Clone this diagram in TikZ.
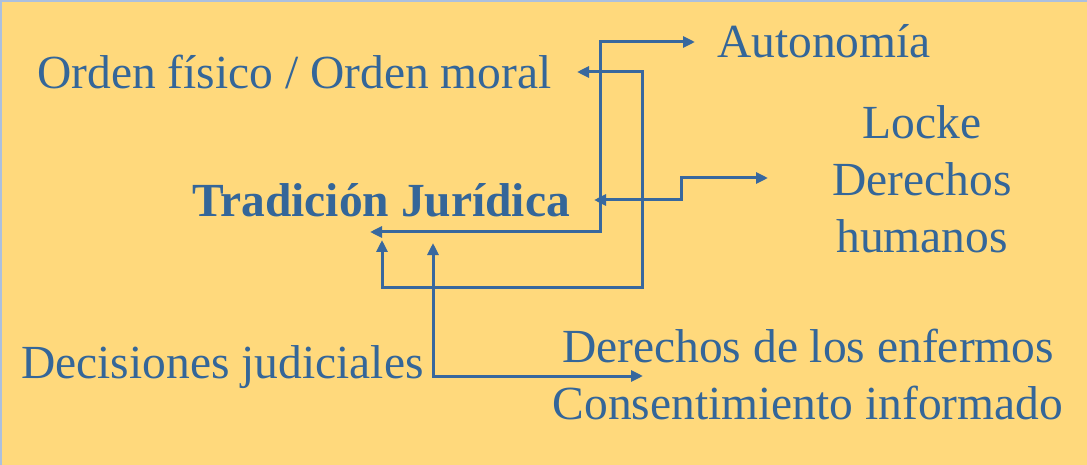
\documentclass[tikz,border=0pt]{standalone}
\usepackage{fontspec}
\setmainfont{Liberation Serif}
\usetikzlibrary{arrows.meta}
\definecolor{bgyellow}{RGB}{255,217,124}
\definecolor{txtblue}{RGB}{52,102,153}
\definecolor{lineblue}{RGB}{56,104,158}
\definecolor{edgeblue}{RGB}{172,192,222}
\tikzset{
  lbl/.style={text=txtblue, inner sep=0pt, font=\fontsize{47.5}{57}\selectfont},
  link/.style={draw=lineblue, line width=3pt, {Triangle[length=12pt,width=11pt]}-{Triangle[length=12pt,width=11pt]}}
}
\begin{document}
\begin{tikzpicture}[x=1pt,y=-1pt]
\useasboundingbox (0,0) rectangle (1087,465);
\fill[edgeblue] (0,0) rectangle (1087,465);
\fill[bgyellow] (1.5,2.5) rectangle (1087,465);

\node[lbl, anchor=base west] (orden) at (37,89) {Orden físico / Orden moral};
\node[lbl, anchor=base west] (auto) at (717,58) {Autonomía};
\node[lbl, anchor=base west, font=\fontsize{47.5}{57}\selectfont\bfseries] (trad) at (192,217) {Tradición Jurídica};
\node[lbl, anchor=base, align=center] (locke) at (922,252) {Locke\\Derechos\\humanos};
\node[lbl, anchor=base west] (deci) at (21,378) {Decisiones judiciales};
\node[lbl, anchor=base, align=center] (enf) at (808,419) {Derechos de los enfermos\\Consentimiento informado};

% connector end points
\coordinate (ta) at (370,232);
\coordinate (tb) at (382,240);
\coordinate (tc) at (594,200);
\coordinate (td) at (433,243);
\coordinate (aa) at (695,42);
\coordinate (oa) at (577,72);
\coordinate (la) at (768,178);
\coordinate (ea) at (643,376);
\coordinate (k1) at (600,232);
\coordinate (k2) at (642,287);
\coordinate (k3) at (681,200);

\draw[link] (ta) -- (k1) |- (aa);
\draw[link] (oa) -| (k2) -| (tb);
\draw[link] (tc) -- (k3) |- (la);
\draw[link] (td) |- (ea);
\end{tikzpicture}
\end{document}
